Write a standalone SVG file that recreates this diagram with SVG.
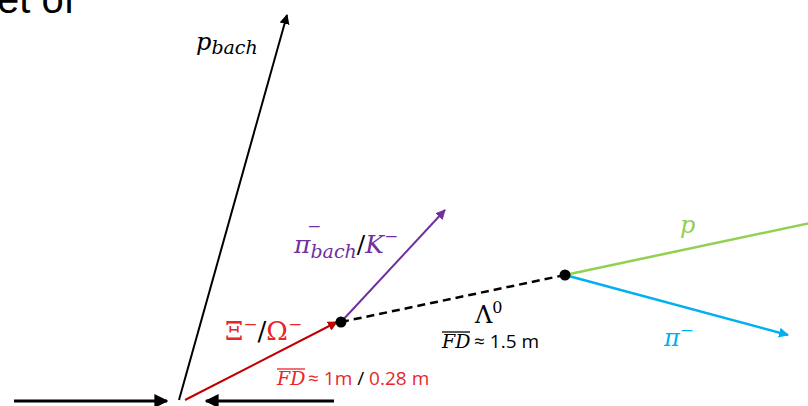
<svg xmlns="http://www.w3.org/2000/svg" width="808" height="406" viewBox="0 0 808 406">
<style>
.serif{font-family:"DejaVu Serif","Liberation Serif",serif}
.it{font-style:italic}
.sans{font-family:"Open Sans","Liberation Sans",sans-serif}
.red{fill:#e8262a}
.pur{fill:#7030a0}
.grn{fill:#92d050}
.blu{fill:#00b0f0}
</style>
<defs>
<marker id="ak" viewBox="0 0 10 10" refX="9" refY="5" markerWidth="10" markerHeight="10" markerUnits="userSpaceOnUse" orient="auto"><path d="M0,0L10,5L0,10z" fill="#000"/></marker>
<marker id="akb" viewBox="0 0 10 10" refX="9" refY="5" markerWidth="14" markerHeight="14" markerUnits="userSpaceOnUse" orient="auto"><path d="M0,0L10,5L0,10z" fill="#000"/></marker>
<marker id="ar" viewBox="0 0 10 10" refX="9" refY="5" markerWidth="10" markerHeight="10" markerUnits="userSpaceOnUse" orient="auto"><path d="M0,0L10,5L0,10z" fill="#c00000"/></marker>
<marker id="ap" viewBox="0 0 10 10" refX="9" refY="5" markerWidth="10" markerHeight="10" markerUnits="userSpaceOnUse" orient="auto"><path d="M0,0L10,5L0,10z" fill="#7030a0"/></marker>
<marker id="ab" viewBox="0 0 10 10" refX="9" refY="5" markerWidth="10" markerHeight="10" markerUnits="userSpaceOnUse" orient="auto"><path d="M0,0L10,5L0,10z" fill="#00b0f0"/></marker>
</defs>
<text x="-3" y="13" font-family="Liberation Sans,Arial,sans-serif" font-size="40" fill="#000">et of</text>
<g id="connectors" fill="none">
<line x1="14" y1="401" x2="167" y2="401" stroke="#000" stroke-width="3" marker-end="url(#akb)"/>
<line x1="334" y1="401" x2="206" y2="401" stroke="#000" stroke-width="3" marker-end="url(#akb)"/>
<line x1="179" y1="400" x2="287" y2="15" stroke="#000" stroke-width="2" marker-end="url(#ak)"/>
<line x1="185" y1="400" x2="337" y2="322" stroke="#c00000" stroke-width="2" marker-end="url(#ar)"/>
<line x1="341" y1="322" x2="445" y2="210" stroke="#7030a0" stroke-width="2" marker-end="url(#ap)"/>
<line x1="341" y1="322" x2="565" y2="275" stroke="#000" stroke-width="2.5" stroke-dasharray="8,5"/>
<line x1="565" y1="275" x2="810" y2="223" stroke="#92d050" stroke-width="2.5"/>
<line x1="565" y1="275" x2="788" y2="335" stroke="#00b0f0" stroke-width="2.5" marker-end="url(#ab)"/>
</g>
<g id="vertex-xi"><circle cx="341" cy="322" r="5.5" fill="#000"/></g>
<g id="vertex-lambda"><circle cx="565" cy="275" r="5.5" fill="#000"/></g>
<g id="label-pbach">
<text x="196" y="50" class="serif it" font-size="24" fill="#000">p<tspan dy="4" font-size="19">bach</tspan></text>
</g>
<g id="label-bachelor">
<text x="294" y="253" class="serif it pur" font-size="25">π<tspan dy="5" font-size="19">bach</tspan><tspan dy="-5" fill="#000" font-style="normal">/</tspan>K<tspan dy="-11" font-size="17" font-style="normal">−</tspan></text>
<text x="307" y="232" class="serif pur" font-size="17">−</text>
</g>
<g id="label-xi">
<text x="225" y="340" class="serif red" font-size="26">Ξ<tspan dy="-10" font-size="17">−</tspan><tspan dy="10" fill="#000">/</tspan>Ω<tspan dy="-10" font-size="17">−</tspan></text>
<text x="277" y="385" class="serif it red" font-size="19">FD</text>
<line x1="277" y1="369" x2="305" y2="369" stroke="#e8262a" stroke-width="1.3"/>
<text x="308" y="385" class="sans red" font-size="19">≈ 1m <tspan fill="#000">/</tspan> 0.28 m</text>
</g>
<g id="label-lambda">
<text x="475" y="323" class="serif" font-size="24" fill="#000">Λ<tspan dy="-10" font-size="16">0</tspan></text>
<text x="442" y="348" class="serif it" font-size="19" fill="#000">FD</text>
<line x1="442" y1="332" x2="470" y2="332" stroke="#000" stroke-width="1.3"/>
<text x="474" y="348" class="sans" font-size="19" fill="#000">≈ 1.5 m</text>
</g>
<g id="label-p"><text x="680" y="233" class="serif it grn" font-size="24">p</text></g>
<g id="label-pi"><text x="664" y="346" class="serif it blu" font-size="24">π<tspan dy="-10" font-size="17" font-style="normal">−</tspan></text></g>
</svg>
